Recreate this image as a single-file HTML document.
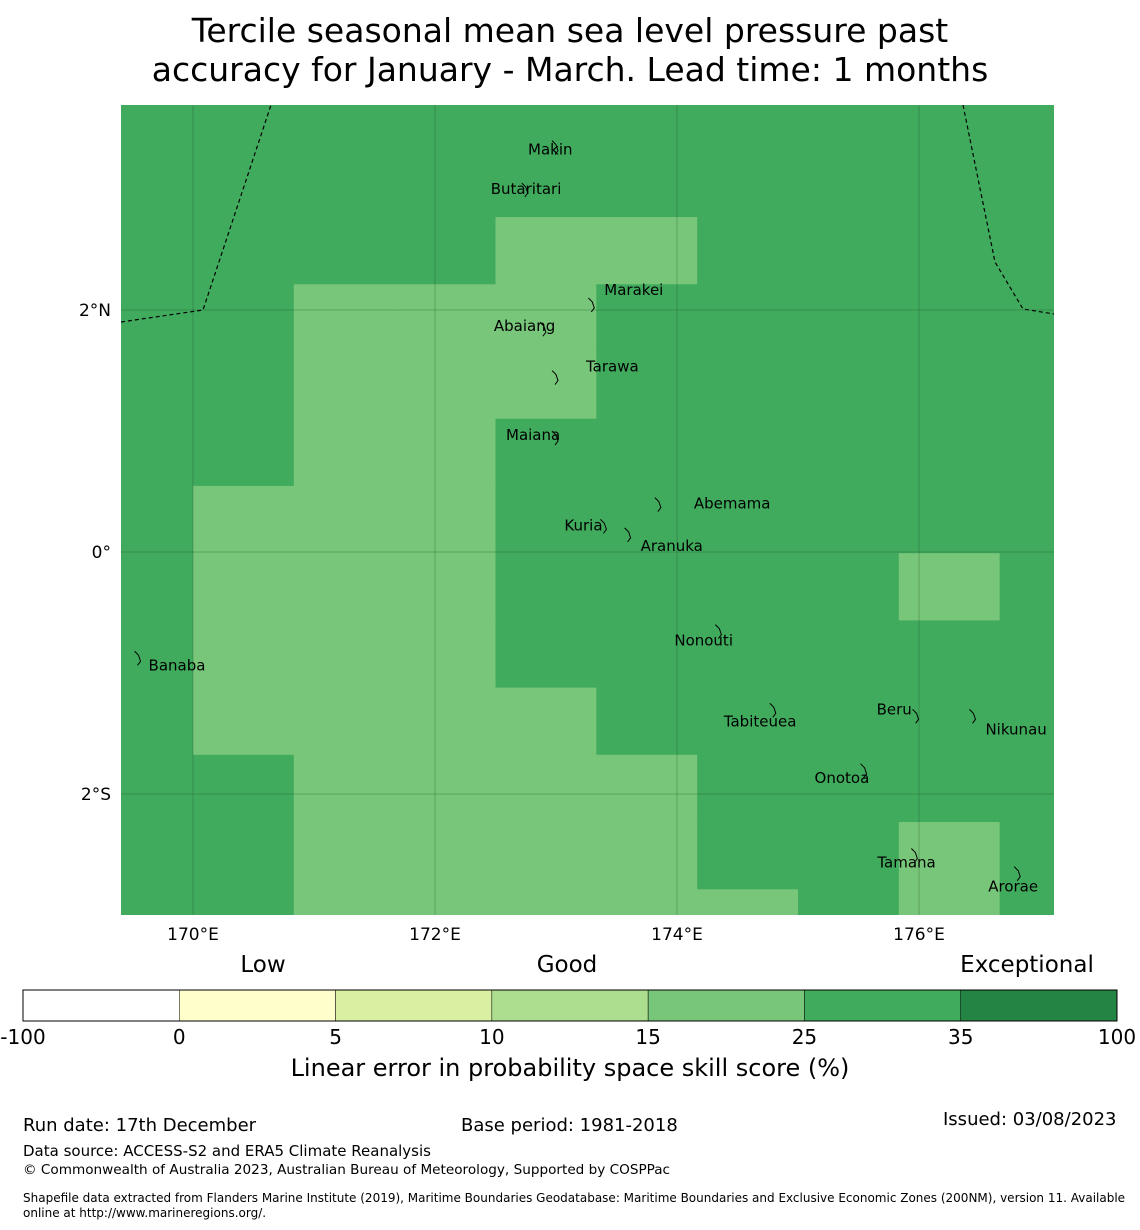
<!DOCTYPE html>
<html><head><meta charset="utf-8"><style>
body{margin:0;background:#fff;font-family:"DejaVu Sans","Liberation Sans",sans-serif;}
#wrap{position:relative;width:1140px;height:1230px;overflow:hidden;}
.t{position:absolute;white-space:nowrap;color:#000;}
</style></head><body>
<div id="wrap">
<div class="t" style="left:0;width:1140px;text-align:center;top:11px;font-size:33px;line-height:39px;">Tercile seasonal mean sea level pressure past<br>accuracy for January - March. Lead time: 1 months</div>
<svg id="map" width="1140" height="1230" style="position:absolute;left:0;top:0;"></svg>
<div class="t" style="left:0;width:1140px;text-align:center;top:1054px;font-size:24px;">Linear error in probability space skill score (%)</div>
<div class="t" style="left:23px;top:1115px;font-size:18px;">Run date: 17th December</div>
<div class="t" style="left:461px;top:1115px;font-size:18px;">Base period: 1981-2018</div>
<div class="t" style="left:943px;top:1109px;font-size:18px;">Issued: 03/08/2023</div>
<div class="t" style="left:23px;top:1142px;font-size:15px;">Data source: ACCESS-S2 and ERA5 Climate Reanalysis</div>
<div class="t" style="left:23px;top:1162px;font-size:13.6px;">© Commonwealth of Australia 2023, Australian Bureau of Meteorology, Supported by COSPPac</div>
<div class="t" style="left:23px;top:1191px;font-size:12px;line-height:15px;">Shapefile data extracted from Flanders Marine Institute (2019), Maritime Boundaries Geodatabase: Maritime Boundaries and Exclusive Economic Zones (200NM), version 11. Available<br>online at http://www.marineregions.org/.</div>
</div>
<script>
// grid data: skill score per cell (rows top->bottom, columns left->right)
const gridRows = [
 [30,30,30,30,30,30,30,30,30,30],
 [30,30,30,30,30,30,30,30,30,30],
 [30,30,30,30,20,20,30,30,30,30],
 [30,30,20,20,20,30,30,30,30,30],
 [30,30,20,20,20,30,30,30,30,30],
 [30,30,20,20,30,30,30,30,30,30],
 [30,20,20,20,30,30,30,30,30,30],
 [30,20,20,20,30,30,30,30,20,30],
 [30,20,20,20,30,30,30,30,30,30],
 [30,20,20,20,20,30,30,30,30,30],
 [30,30,20,20,20,20,30,30,30,30],
 [30,30,20,20,20,20,30,30,20,30],
 [30,30,20,20,20,20,20,30,20,30]
];
const cbBounds = [-100,0,5,10,15,25,35,100];
const cbColors = ["#ffffff","#ffffcc","#d9f0a3","#addd8e","#78c679","#41ab5d","#238443"];
const lonTicks = [170,172,174,176];
const latTicks = [2,0,-2];
const islands = [
 ["Makin",173.0,3.35,-28,3],["Butaritari",172.75,3.0,-35,0],["Marakei",173.3,2.05,12,-14],
 ["Abaiang",172.9,1.85,-50,-2],["Tarawa",173.0,1.45,30,-10],["Maiana",173.0,0.95,-50,-2],
 ["Abemama",173.85,0.4,35,0],["Kuria",173.4,0.22,-40,0],["Aranuka",173.6,0.15,12,12],
 ["Nonouti",174.35,-0.65,-45,10],["Banaba",169.55,-0.87,10,8],["Tabiteuea",174.8,-1.3,-50,12],
 ["Beru",175.98,-1.35,-40,-6],["Nikunau",176.45,-1.35,12,14],["Onotoa",175.55,-1.8,-50,8],
 ["Tamana",175.97,-2.5,-38,8],["Arorae",176.82,-2.65,-30,14]
];
const L=121,R=1054,T=105,B=915;
const xs=lon=>193+(lon-170)*121;
const ys=lat=>552-lat*121;
const NS="http://www.w3.org/2000/svg";
const svg=document.getElementById('map');
function mk(tag,attrs){const e=document.createElementNS(NS,tag);for(const k in attrs)e.setAttribute(k,attrs[k]);svg.appendChild(e);return e;}
const colorFor=v=>{for(let i=0;i<cbColors.length;i++){if(v<cbBounds[i+1])return cbColors[i];}return cbColors[cbColors.length-1];};
const clip=mk('clipPath',{id:'mc'});
const cr=document.createElementNS(NS,'rect');cr.setAttribute('x',L);cr.setAttribute('y',T);cr.setAttribute('width',R-L);cr.setAttribute('height',B-T);clip.appendChild(cr);
const g=mk('g',{'clip-path':'url(#mc)'});


const cw=(5/6)*121,ch=(5/9)*121;
const x0=xs(170)-cw, y0=82.6;
gridRows.forEach((row,r)=>row.forEach((v,c)=>{
 const e=document.createElementNS(NS,'rect');
 e.setAttribute('x',x0+c*cw);e.setAttribute('y',y0+r*ch);
 e.setAttribute('width',cw+0.6);e.setAttribute('height',ch+0.6);
 e.setAttribute('fill',colorFor(v));
 
 
 g.appendChild(e);
}));
function gl(tag,a){const e=document.createElementNS(NS,tag);for(const k in a)e.setAttribute(k,a[k]);g.appendChild(e);return e;}
lonTicks.forEach(l=>{const e=gl('line',{x1:xs(l),x2:xs(l),y1:T,y2:B,stroke:'#1a4d28','stroke-width':0.5,'stroke-opacity':0.6});});
latTicks.forEach(l=>{const e=gl('line',{x1:L,x2:R,y1:ys(l),y2:ys(l),stroke:'#1a4d28','stroke-width':0.5,'stroke-opacity':0.6});});
const e1=gl('polyline',{points:"121,322 203,310 271,105",fill:'none',stroke:'#000','stroke-width':1.2,'stroke-dasharray':'4,3'});

const e2=gl('polyline',{points:"963,105 995,262 1023,309 1054,314",fill:'none',stroke:'#000','stroke-width':1.2,'stroke-dasharray':'4,3'});

islands.forEach(d=>{
 const x=xs(d[1]),y=ys(d[2]);
 const p=gl('path',{d:`M${x-4},${y-6} l4,4 l2,6 l-3,4`,fill:'none',stroke:'#000','stroke-width':1});
 
 const t=gl('text',{x:x+d[3],y:y+d[4]+5,'font-size':15,'font-family':'DejaVu Sans, Liberation Sans, sans-serif'});
 t.textContent=d[0];
 
});
lonTicks.forEach(l=>{const t=mk('text',{x:xs(l),y:940,'text-anchor':'middle','font-size':17,'font-family':'DejaVu Sans, Liberation Sans, sans-serif'});t.textContent=l+'°E';});
latTicks.forEach(l=>{const t=mk('text',{x:111,y:ys(l)+6,'text-anchor':'end','font-size':17,'font-family':'DejaVu Sans, Liberation Sans, sans-serif'});t.textContent=l===0?'0°':Math.abs(l)+'°'+(l>0?'N':'S');});
// colorbar
const cbL=23,cbR=1117,cbT=990,cbH=31,sw=(cbR-cbL)/cbColors.length;
cbColors.forEach((c,i)=>{const r=mk('rect',{x:cbL+i*sw,y:cbT,width:sw,height:cbH,fill:c,stroke:'#000','stroke-width':0.5});});
mk('rect',{x:cbL,y:cbT,width:cbR-cbL,height:cbH,fill:'none',stroke:'#000','stroke-width':1});
cbBounds.forEach((b,i)=>{const t=mk('text',{x:cbL+i*sw,y:1044,'text-anchor':'middle','font-size':20,'font-family':'DejaVu Sans, Liberation Sans, sans-serif'});t.textContent=b;});
[["Low",263],["Good",567],["Exceptional",1027]].forEach(d=>{const t=mk('text',{x:d[1],y:972,'text-anchor':'middle','font-size':23,'font-family':'DejaVu Sans, Liberation Sans, sans-serif'});t.textContent=d[0];});
</script>
</body></html>
